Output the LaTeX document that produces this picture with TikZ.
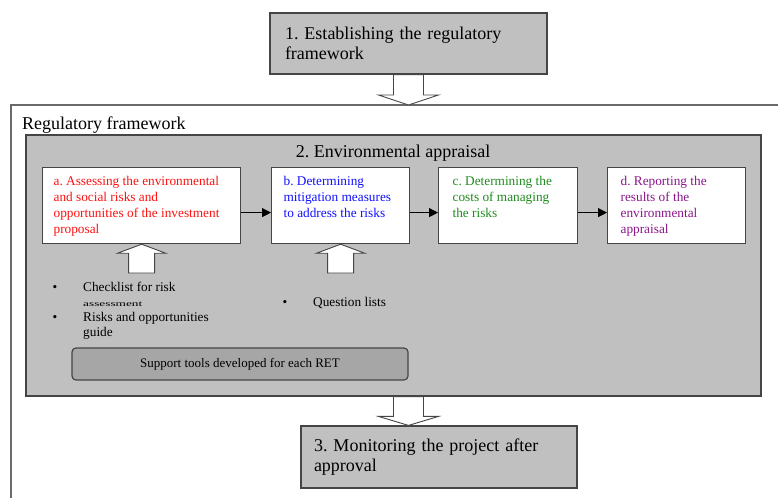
\documentclass[tikz,border=0pt]{standalone}
\usepackage{fontspec}
\usepackage{graphicx}
\setmainfont{Liberation Serif}
\usetikzlibrary{calc,arrows.meta}
\definecolor{boxgray}{HTML}{C0C0C0}
\definecolor{toolgray}{HTML}{A6A6A6}
\definecolor{edgegray}{HTML}{454545}
\definecolor{framegray}{HTML}{6A6A6A}
\definecolor{cred}{HTML}{FF1010}
\definecolor{cblue}{HTML}{1010FF}
\definecolor{cgreen}{HTML}{1E8C1E}
\definecolor{dpurple}{HTML}{8B168B}
\newcommand{\fs}[2]{\fontsize{#1}{#2}\selectfont}
\newcommand{\ibtext}[2]{\parbox[t][58pt][t]{#1}{\raggedright #2}}
\frenchspacing
\begin{document}
\begin{tikzpicture}[x=1pt,y=-1pt,
  stagebox/.style={draw=edgegray, line width=1.2pt, fill=boxgray, inner ysep=0pt,
     align=left, font=\fs{18}{20.5}},
  ibox/.style={draw=edgegray, line width=1.2pt, fill=white, anchor=north west,
     inner ysep=9pt, font=\fs{13.3}{16}},
  hollow/.style={draw=edgegray, line width=0.9pt, fill=white, line join=miter},
  flow/.style={-{Triangle[length=9pt,width=9pt]}, line width=1pt, draw=black},
  plain/.style={inner sep=0pt}]
\useasboundingbox (0,0) rectangle (778,498);

% outer frame
\coordinate (frtr) at (778,105);
\coordinate (frtl) at (11,105);
\coordinate (frbl) at (11,498);
\draw[framegray, line width=1.3pt] (frtr) -- (frtl) -- (frbl);
\node[plain, anchor=west, font=\fs{18}{20.5}] (regtitle) at (22,125) {Regulatory framework};

% stage 1
\node[stagebox, text width=247pt, inner xsep=15pt, minimum height=61pt] (box1) at (408.5,43.5)
  {1. Establishing the regulatory\\framework};

% appraisal area
\node[draw=edgegray, line width=1.2pt, fill=boxgray, minimum width=735pt, minimum height=261pt, inner sep=0pt]
  (appraisal) at (393.5,265.5) {};
\node[plain, font=\fs{18}{20.5}] (aptitle) at (393,153) {2. Environmental appraisal};

% stage 3
\node[stagebox, text width=250pt, inner xsep=13pt, minimum height=62pt] (box3) at (439,457)
  {3. Monitoring the project after\\approval};

% inner boxes
\node[ibox, inner xsep=11pt, text=cred] (a) at (42,167)
  {\ibtext{176pt}{a. Assessing the environmental\\and social risks and\\opportunities of the investment\\proposal}};
\node[ibox, inner xsep=12pt, text=cblue] (b) at (271,167)
  {\ibtext{114pt}{b. Determining\\mitigation measures\\to address the risks}};
\node[ibox, inner xsep=14pt, text=cgreen] (c) at (438,167)
  {\ibtext{111pt}{c. Determining the\\costs of managing\\the risks}};
\node[ibox, inner xsep=13pt, text=dpurple] (d) at (607,167)
  {\ibtext{112pt}{d. Reporting the\\results of the\\environmental\\appraisal}};

\draw[flow] ([yshift=-7pt]a.east) -- ([yshift=-7pt]b.west);
\draw[flow] ([yshift=-7pt]b.east) -- ([yshift=-7pt]c.west);
\draw[flow] ([yshift=-7pt]c.east) -- ([yshift=-7pt]d.west);

% hollow down arrows
\coordinate (tip1) at (409,105);
\draw[hollow] let \p1=(box1.south), \p2=(tip1) in
  (\x1-15pt,\y1) -- (\x1-15pt,\y2+10pt) -- (\x1-30pt,\y2+10pt) -- (\x1,\y2)
  -- (\x1+30pt,\y2+10pt) -- (\x1+15pt,\y2+10pt) -- (\x1+15pt,\y1) -- cycle;
\coordinate (tail2) at (appraisal.south -| box1.south);
\coordinate (tip2) at (box3.north -| box1.south);
\draw[hollow] let \p1=(tail2), \p2=(tip2) in
  (\x1-15pt,\y1) -- (\x1-15pt,\y2+9pt) -- (\x1-30pt,\y2+9pt) -- (\x1,\y2)
  -- (\x1+30pt,\y2+9pt) -- (\x1+15pt,\y2+9pt) -- (\x1+15pt,\y1) -- cycle;

% hollow up arrows
\coordinate (taila) at (141,273);
\coordinate (tailb) at (340,273);
\draw[hollow] let \p1=(a.south), \p2=(taila) in
  (\x1-13pt,\y2) -- (\x1-13pt,\y1-9pt) -- (\x1-24pt,\y1-9pt) -- (\x1,\y1)
  -- (\x1+24pt,\y1-9pt) -- (\x1+13pt,\y1-9pt) -- (\x1+13pt,\y2) -- cycle;
\draw[hollow] let \p1=(b.south), \p2=(tailb) in
  (\x1-13pt,\y2) -- (\x1-13pt,\y1-9pt) -- (\x1-24pt,\y1-9pt) -- (\x1,\y1)
  -- (\x1+24pt,\y1-9pt) -- (\x1+13pt,\y1-9pt) -- (\x1+13pt,\y2) -- cycle;

% bullet lists
\node[plain, anchor=north west, font=\fs{13.3}{15}] (list1) at (52.5,280.5)
  {\begin{tabular}{@{}p{30.5pt}@{}l@{}}
   \textbullet & Checklist for risk\\
   & \scalebox{1}[0.6]{assessment}\\
   \textbullet & Risks and opportunities\\
   & guide
   \end{tabular}};
\node[plain, anchor=north west, font=\fs{13.3}{15}] (list2) at (282.5,295.5)
  {\begin{tabular}{@{}p{30.5pt}@{}l@{}}
   \textbullet & Question lists
   \end{tabular}};

% support tools
\node[draw=edgegray, line width=1.2pt, fill=toolgray, rounded corners=4pt,
      minimum width=336pt, minimum height=32pt, inner sep=0pt, font=\fs{13}{15}]
  (tools) at (240,364) {Support tools developed for each RET};
\end{tikzpicture}
\end{document}
